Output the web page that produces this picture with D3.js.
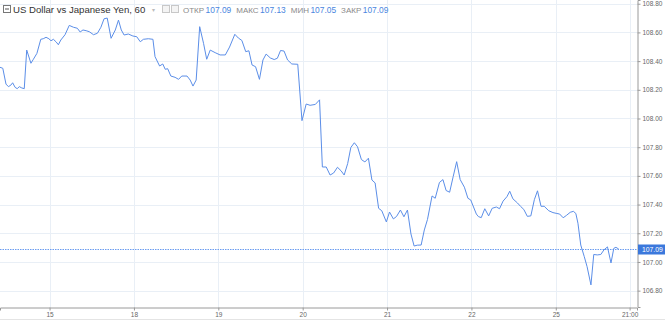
<!doctype html>
<html>
<head>
  <meta charset="utf-8" />
  <script src="https://cdnjs.cloudflare.com/ajax/libs/d3/7.8.5/d3.min.js"></script>
  <style>
  body{
    margin: 0;
    background: #ffffff;
    font-family: "Liberation Sans", Arial, sans-serif;
  }
  .grid line{
    stroke: #e9eff6;
    stroke-width: 1;
  }
  .axis text{
    fill: #666;
    font-size: 6.5px;
  }
  .hdr{
    font-size: 9.6px;
    fill: #333;
  }
  .lbl{
    font-size: 8px;
    fill: #8a8a8a;
  }
  .val{
    font-size: 8.4px;
    fill: #4a86e0;
  }
  </style>
</head>
<body>
  <div id="chart"></div>
  <script>
  // hours from the start of the 15th (trading hours only, weekend skipped)
  var hours = [
    -14.1, -13.3, -12.4, -11.7, -11.0, -10.5, -9.8, -9.2, -8.6, -7.9, -7.2, -6.5, -5.3, -4.6, -3.6, -2.5, -1.8, -1.0, -0.2,
    0.4, 1.1, 1.9, 2.5, 3.2, 4.4, 5.6, 6.8, 7.9, 8.7, 9.5, 10.4, 11.3, 12.5, 13.6, 14.6, 15.5, 16.4, 17.5, 18.7, 19.6, 20.4, 21.2, 22.4, 23.7,
    24.8, 25.8, 26.7, 28.1, 29.4, 30.0, 31.3, 32.2, 32.9, 33.6, 34.5, 35.7, 36.7, 37.6, 39.1, 40.0, 40.8, 41.7, 42.7, 43.8, 44.7, 45.7, 47.1,
    48.5, 50.0, 51.2, 52.7, 53.7, 54.7, 55.8, 56.7, 57.6, 58.6, 59.7, 60.7, 61.6, 62.8, 63.9, 64.8, 65.7, 66.7, 67.7, 68.9, 70.6, 71.8,
    73.0, 74.1, 75.6, 76.8, 77.6, 78.7, 79.8, 80.8, 81.9, 82.9, 83.8, 84.8, 85.7, 86.7, 87.6, 88.7, 89.7, 90.7, 91.7, 92.6, 93.6, 94.5, 95.8,
    96.7, 97.8, 98.7, 99.8, 100.8, 101.8, 102.8, 103.7, 104.6, 105.7, 106.6, 107.5, 108.8, 109.7, 110.9, 111.9, 112.8, 113.8, 114.8, 115.8,
    116.8, 118.0, 119.0, 119.8, 121.4, 122.0, 122.8, 123.8, 124.9, 125.9, 127.1, 128.0, 129.0, 130.1, 130.9, 131.8, 133.1, 134.0, 134.9,
    135.9, 136.9, 137.9, 138.8, 139.8, 140.7, 142.0, 143.2, 144.1, 145.1, 146.1, 147.0, 148.1, 149.0, 149.7, 150.3, 151.1, 152.1, 152.9,
    154.0, 154.8, 155.8, 156.8, 157.7, 158.7, 159.7, 160.5, 161.1, 161.9
  ];
  var closes = [
    108.357, 108.350, 108.240, 108.222, 108.233, 108.249, 108.217, 108.208, 108.222, 108.213, 108.208, 108.477, 108.385, 108.413, 108.454, 108.552, 108.556, 108.566, 108.556,
    108.542, 108.552, 108.533, 108.514, 108.547, 108.584, 108.649, 108.636, 108.629, 108.603, 108.617, 108.612, 108.605, 108.584, 108.594, 108.636, 108.695, 108.700, 108.559, 108.617, 108.686, 108.617, 108.582, 108.589, 108.575,
    108.570, 108.535, 108.552, 108.556, 108.552, 108.431, 108.366, 108.380, 108.343, 108.347, 108.296, 108.287, 108.273, 108.296, 108.296, 108.268, 108.226, 108.268, 108.640, 108.524, 108.413, 108.477, 108.459,
    108.443, 108.443, 108.498, 108.587, 108.561, 108.544, 108.466, 108.472, 108.373, 108.361, 108.273, 108.408, 108.449, 108.422, 108.411, 108.420, 108.474, 108.470, 108.408, 108.380, 108.378, 107.985,
    108.101, 108.092, 108.098, 108.130, 107.662, 107.662, 107.606, 107.620, 107.660, 107.636, 107.606, 107.686, 107.798, 107.831, 107.803, 107.714, 107.697, 107.723, 107.571, 107.551, 107.374, 107.357, 107.279,
    107.348, 107.300, 107.317, 107.362, 107.315, 107.362, 107.195, 107.111, 107.117, 107.118, 107.223, 107.296, 107.460, 107.444, 107.554, 107.574, 107.498, 107.486, 107.594, 107.699,
    107.574, 107.521, 107.444, 107.432, 107.334, 107.316, 107.309, 107.371, 107.321, 107.374, 107.383, 107.371, 107.424, 107.455, 107.493, 107.440, 107.411, 107.387, 107.366,
    107.318, 107.321, 107.434, 107.496, 107.388, 107.388, 107.357, 107.344, 107.339, 107.334, 107.308, 107.324, 107.346, 107.353, 107.338, 107.270, 107.118, 107.037, 106.967,
    106.840, 107.052, 107.049, 107.052, 107.084, 107.105, 106.993, 107.095, 107.102, 107.090
  ];
  var dayTicks = [0, 24, 48, 72, 96, 120, 144, 165];
  var dayLabels = ["15", "18", "19", "20", "21", "22", "25", "21:00"];
  var priceTicks = [106.8, 107.0, 107.2, 107.4, 107.6, 107.8, 108.0, 108.2, 108.4, 108.6, 108.8];
  var lastPrice = 107.09;
  var legendNames = ["ОТКР", "МАКС", "МИН", "ЗАКР"];
  var legendValues = ["107.09", "107.13", "107.05", "107.09"];

  var width = 665, height = 320;
  var plotW = 637, plotH = 307;

  var svg = d3.select("#chart").append("svg")
    .attr("width", width)
    .attr("height", height);

  var x = d3.scaleLinear().domain([-14.1, 167.1]).range([0, plotW]);
  var y = d3.scaleLinear().domain([106.686, 108.826]).range([plotH, 0]);

  // grid
  var grid = svg.append("g").attr("class", "grid");
  grid.selectAll("line.h").data(priceTicks).enter().append("line")
    .attr("class", "h")
    .attr("x1", 0).attr("x2", plotW)
    .attr("y1", function(d){ return Math.round(y(d)) + 0.5; })
    .attr("y2", function(d){ return Math.round(y(d)) + 0.5; });
  grid.selectAll("line.v").data(dayTicks).enter().append("line")
    .attr("class", "v")
    .attr("y1", 0).attr("y2", plotH)
    .attr("x1", function(d){ return Math.round(x(d)) + 0.5; })
    .attr("x2", function(d){ return Math.round(x(d)) + 0.5; });

  // last price dotted line
  svg.append("line")
    .attr("x1", 0).attr("x2", plotW)
    .attr("y1", Math.round(y(lastPrice)) + 0.5)
    .attr("y2", Math.round(y(lastPrice)) + 0.5)
    .attr("stroke", "#6b9cf0")
    .attr("stroke-width", 1)
    .attr("stroke-dasharray", "1.5,1");

  // price line
  var pts = hours.map(function(h, i){ return [h, closes[i]]; });
  var line = d3.line()
    .x(function(d){ return x(d[0]); })
    .y(function(d){ return y(d[1]); });
  svg.append("path")
    .datum(pts)
    .attr("d", line)
    .attr("fill", "none")
    .attr("stroke", "#5b8ee8")
    .attr("stroke-width", 1);

  // axes
  var yAxis = d3.axisRight(y)
    .tickValues(priceTicks)
    .tickSize(3)
    .tickFormat(d3.format(".2f"));
  svg.append("g")
    .attr("class", "axis")
    .attr("transform", "translate(" + (plotW + 0.5) + ",0)")
    .call(yAxis)
    .call(function(g){
      g.select(".domain").attr("stroke", "#9a9a9a");
      g.selectAll(".tick line").attr("stroke", "#9a9a9a");
      g.selectAll(".tick text").attr("x", 5);
    });

  var xAxis = d3.axisBottom(x)
    .tickValues(dayTicks)
    .tickSize(3)
    .tickFormat(function(d, i){ return dayLabels[i]; });
  svg.append("g")
    .attr("class", "axis")
    .attr("transform", "translate(0," + (plotH + 0.5) + ")")
    .call(xAxis)
    .call(function(g){
      g.select(".domain").attr("stroke", "#9a9a9a");
      g.selectAll(".tick line").attr("stroke", "#9a9a9a");
      g.selectAll(".tick text").attr("y", 5);
    });

  // faint bottom border
  svg.append("line")
    .attr("x1", 0).attr("x2", width)
    .attr("y1", height - 0.5).attr("y2", height - 0.5)
    .attr("stroke", "#e4e4e4");

  // last price tag
  var ly = Math.round(y(lastPrice)) + 0.5;
  svg.append("rect")
    .attr("x", plotW + 1).attr("y", ly - 5)
    .attr("width", width - plotW - 1).attr("height", 10)
    .attr("fill", "#3b78dc");
  svg.append("text")
    .attr("x", plotW + 5).attr("y", ly + 2.4)
    .attr("fill", "#fff")
    .style("font-size", "6.8px")
    .text(legendValues[3]);

  // header
  var hdr = svg.append("g");
  hdr.append("rect")
    .attr("x", 3.5).attr("y", 5.5).attr("width", 7).attr("height", 7)
    .attr("fill", "#fff").attr("stroke", "#777");
  hdr.append("line")
    .attr("x1", 5).attr("x2", 9).attr("y1", 9).attr("y2", 9)
    .attr("stroke", "#555");
  hdr.append("text").attr("class", "hdr")
    .attr("x", 13).attr("y", 12.5)
    .text("US Dollar vs Japanese Yen, 60");
  hdr.append("text")
    .attr("x", 152).attr("y", 12)
    .attr("fill", "#bbb").style("font-size", "6px")
    .text("▾");
  [162, 171].forEach(function(px){
    hdr.append("rect")
      .attr("x", px + 0.5).attr("y", 5.5).attr("width", 7).attr("height", 7)
      .attr("fill", "#f4f4f4").attr("stroke", "#c8c8c8");
  });

  var lx = 183;
  legendNames.forEach(function(n, i){
    var t = hdr.append("text").attr("class", "lbl").attr("x", lx).attr("y", 12.5).text(n);
    lx += t.node().getComputedTextLength() + 1.5;
    var v = hdr.append("text").attr("class", "val").attr("x", lx).attr("y", 12.5).text(legendValues[i]);
    lx += v.node().getComputedTextLength() + 5;
  });
  </script>
</body>
</html>
